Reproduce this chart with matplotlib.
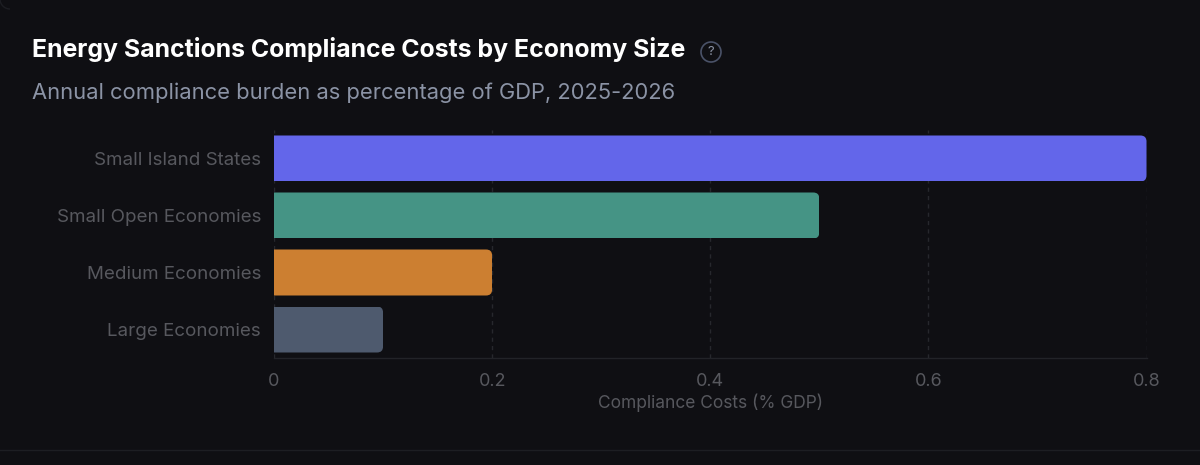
import matplotlib
matplotlib.use("Agg")
import matplotlib.pyplot as plt
from matplotlib.patches import FancyBboxPatch, Circle, Arc
from matplotlib.lines import Line2D
from matplotlib.transforms import IdentityTransform

categories = ["Small Island States", "Small Open Economies", "Medium Economies", "Large Economies"]
costs = [0.8, 0.5, 0.2, 0.1]
bar_colors = ["#6366ea", "#459485", "#cc7f31", "#4e5a6e"]
x_ticks = [0, 0.2, 0.4, 0.6, 0.8]
x_tick_labels = ["0", "0.2", "0.4", "0.6", "0.8"]

W, H = 1200, 465
BG = "#0f0f13"

plt.rcParams["font.family"] = ["Inter", "DejaVu Sans"]

fig = plt.figure(figsize=(W / 100, H / 100), dpi=100, facecolor=BG)
ax = fig.add_axes([274 / W, 1 - 358 / H, (1146.5 - 274) / W, 228 / H], facecolor=BG)

# bars, corners rounded on the right only through a clip path
bars = ax.barh(range(len(categories)), costs, height=46 / 57, color=bar_colors, zorder=3)
ax.set_xlim(0, 0.8)
ax.set_ylim(len(categories) - 0.5, -0.5)
fig.canvas.draw()
for bar in bars:
    (x0, y0), (x1, y1) = ax.transData.transform(
        [(bar.get_x(), bar.get_y()), (bar.get_x() + bar.get_width(), bar.get_y() + bar.get_height())]
    )
    y_lo, y_hi = min(y0, y1), max(y0, y1)
    rad = 6
    clip = FancyBboxPatch((x0 - 20 + rad, y_lo + rad), x1 - x0 + 20 - 2 * rad, y_hi - y_lo - 2 * rad,
                          boxstyle=f"round,pad={rad},rounding_size={rad}", transform=IdentityTransform())
    bar.set_clip_path(clip)

ax.set_xticks(x_ticks)
ax.set_xticklabels(x_tick_labels)
ax.set_yticks(range(len(categories)))
ax.set_yticklabels(categories)
ax.tick_params(axis="x", length=0, pad=11, labelsize=13, labelcolor="#57585e")
ax.tick_params(axis="y", length=0, pad=9.4, labelsize=13.5, labelcolor="#57585e")
ax.grid(axis="x", color="#27282d", linewidth=1, linestyle=(0, (3, 3)), zorder=0)
ax.set_axisbelow(True)
for side in ["top", "right", "left"]:
    ax.spines[side].set_visible(False)
ax.spines["bottom"].set_color("#222328")
ax.spines["bottom"].set_linewidth(1)
for label in ax.get_xticklabels():
    label.set_clip_on(False)
ax.set_xlabel("Compliance Costs (% GDP)", fontsize=12.5, color="#57585e", labelpad=2.5)

fig.text(32 / W, 1 - 49 / H, "Energy Sanctions Compliance Costs by Economy Size",
         fontsize=17.9, fontweight="bold", color="#ffffff", va="center", ha="left")
fig.text(32 / W, 1 - 93 / H, "Annual compliance burden as percentage of GDP, 2025-2026",
         fontsize=15.8, color="#8b93a5", va="center", ha="left")

# help icon next to the title
fig.add_artist(Circle((711, H - 52), 10, transform=IdentityTransform(), facecolor="none",
                      edgecolor="#4a5268", linewidth=1.2))
fig.text(711 / W, 1 - 52 / H, "?", fontsize=9.5, color="#8b93a5", va="center", ha="center")

# card outline: foot of the panel and its top left corner
fig.add_artist(Line2D([0, 1], [1 - 449.5 / H] * 2, color="#1d1e23", linewidth=1))
fig.add_artist(Arc((10, H + 1), 20, 20, theta1=180, theta2=270, transform=IdentityTransform(),
                   color="#1d1e23", linewidth=1))

fig.savefig("out.png", dpi=100, facecolor=BG)
